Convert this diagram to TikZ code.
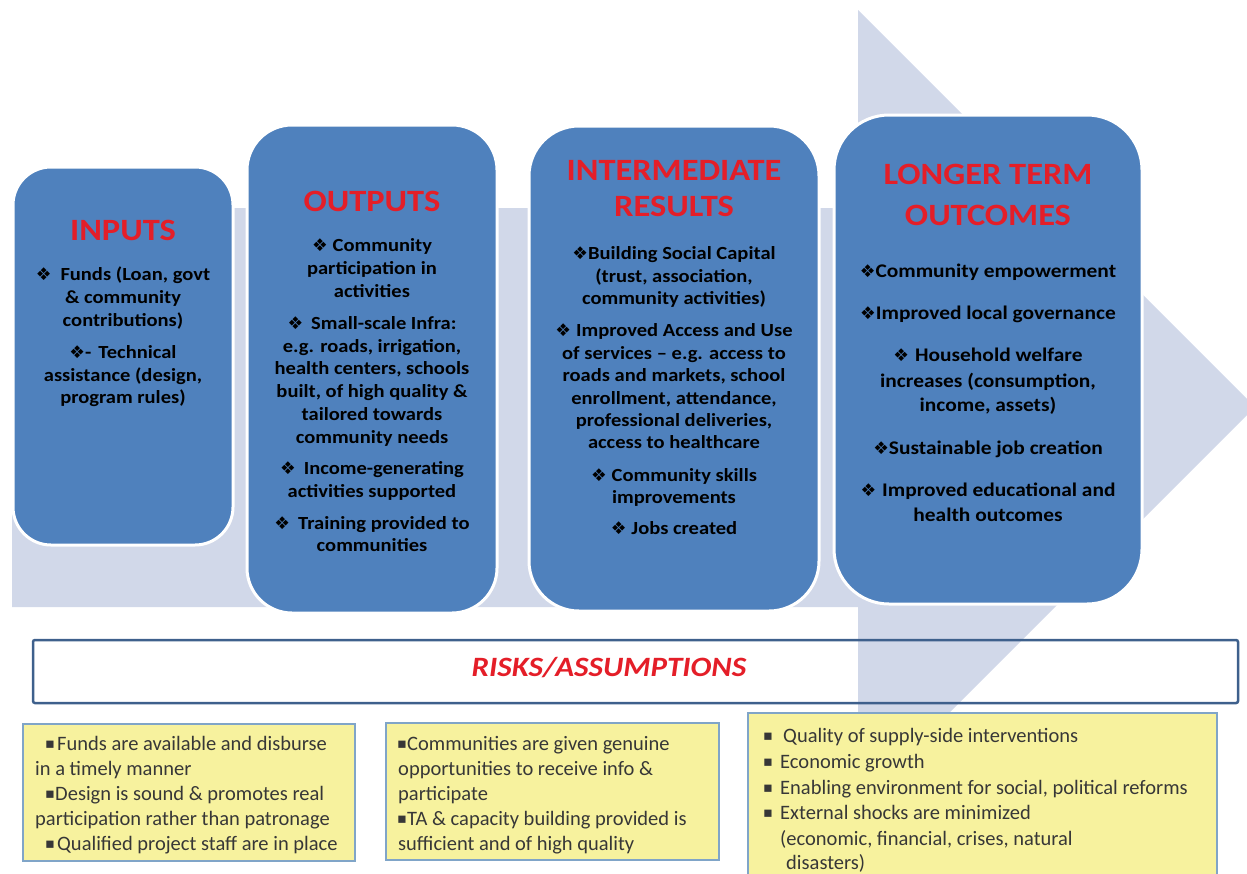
\documentclass[tikz,border=0pt]{standalone}
\usepackage{fontspec}
\setmainfont{Carlito}
\newfontfamily\widefont[FakeStretch=1.11,Ligatures=TeX]{Carlito}
\newfontfamily\symfont{DejaVu Sans}
\definecolor{arrowc}{RGB}{209,216,233}
\definecolor{boxblue}{RGB}{79,129,189}
\definecolor{titlered}{RGB}{228,30,40}
\definecolor{riskc}{RGB}{62,96,140}
\definecolor{ylwfill}{RGB}{247,242,158}
\definecolor{ylwline}{RGB}{128,165,200}
\definecolor{bottxt}{RGB}{55,55,55}
\newcommand\myDiam{{\symfont\fontsize{17.5}{17.5}\selectfont ❖}}
\newcommand\mySq[1][18pt]{\makebox[#1][l]{\raisebox{1.5pt}{\symfont\fontsize{14.5}{14.5}\selectfont ▪}}}
\begin{document}
\begin{tikzpicture}[x=1pt,y=-1pt,
  bbox/.style={fill=boxblue,draw=white,line width=3pt,inner sep=0pt},
  ttl/.style={text=titlered,font=\widefont\fontsize{31}{31}\selectfont\bfseries,anchor=base,inner sep=0pt},
  tl/.style={font=\widefont\fontsize{18.5}{18.5}\selectfont\bfseries,anchor=base,inner sep=0pt,text=black},
  tm/.style={font=\widefont\fontsize{18.5}{18.5}\selectfont\bfseries,anchor=base,inner sep=0pt,text=black},
  tr/.style={font=\widefont\fontsize{19.3}{19.3}\selectfont\bfseries,anchor=base,inner sep=0pt,text=black},
  ybox/.style={fill=ylwfill,draw=ylwline,line width=1.2pt,inner sep=0pt},
  bl/.style={font=\fontsize{20.5}{20.5}\selectfont,anchor=base west,inner sep=0pt,text=bottxt}]
\useasboundingbox (0,0) rectangle (1247,873);
\begin{scope}
\clip (0,0) rectangle (1247,873);
% big background arrow
\fill[arrowc] (12,208) -- (858,208) -- (858,10) -- (1255,407) -- (858,804) -- (858,607) -- (12,607) -- cycle;

% blue boxes
\node[bbox,rounded corners=38pt,minimum width=220pt,minimum height=378pt] (inbox) at (123,356) {};
\node[bbox,rounded corners=45pt,minimum width=250pt,minimum height=488pt] (outbox) at (372,369) {};
\node[bbox,rounded corners=50pt,minimum width=290pt,minimum height=485pt] (midbox) at (674,368.5) {};
\node[bbox,rounded corners=55pt,minimum width=308pt,minimum height=489pt] (longbox) at (988,359.5) {};

% INPUTS
\node[ttl] (inT) at (123,240) {INPUTS};
\node[tl] (in1) at (123,280) {\myDiam\hspace{9pt}Funds (Loan, govt};
\node[tl] (in2) at (123,303) {\& community};
\node[tl] (in3) at (123,326) {contributions)};
\node[tl] (in4) at (123,358) {\myDiam-\hspace{7pt}Technical};
\node[tl] (in5) at (123,381) {assistance (design,};
\node[tl] (in6) at (123,403) {program rules)};

% OUTPUTS
\node[ttl] (outT) at (372,211) {OUTPUTS};
\node[tl] (o1) at (372,251) {\myDiam\hspace{5pt}Community};
\node[tl] (o2) at (372,274) {participation in};
\node[tl] (o3) at (372,297) {activities};
\node[tl] (o4) at (372,329) {\myDiam\hspace{8pt}Small-scale Infra:};
\node[tl] (o5) at (372,352) {e.g. roads, irrigation,};
\node[tl] (o6) at (372,374) {health centers, schools};
\node[tl] (o7) at (372,397) {built, of high quality \&};
\node[tl] (o8) at (372,420) {tailored towards};
\node[tl] (o9) at (372,443) {community needs};
\node[tl] (o10) at (372,474) {\myDiam\hspace{8pt}Income-generating};
\node[tl] (o11) at (372,497) {activities supported};
\node[tl] (o12) at (372,529) {\myDiam\hspace{8pt}Training provided to};
\node[tl] (o13) at (372,551) {communities};

% INTERMEDIATE RESULTS
\node[ttl] (midT1) at (674,180) {INTERMEDIATE};
\node[ttl] (midT2) at (674,216) {RESULTS};
\node[tm] (m1) at (674,259) {\myDiam Building Social Capital};
\node[tm] (m2) at (674,282) {(trust, association,};
\node[tm] (m3) at (674,304) {community activities)};
\node[tm] (m4) at (674,336) {\myDiam\hspace{5pt}Improved Access and Use};
\node[tm] (m5) at (674,359) {of services – e.g. access to};
\node[tm] (m6) at (674,381) {roads and markets, school};
\node[tm] (m7) at (674,404) {enrollment, attendance,};
\node[tm] (m8) at (674,426) {professional deliveries,};
\node[tm] (m9) at (674,448) {access to healthcare};
\node[tm] (m10) at (674,481) {\myDiam\hspace{5pt}Community skills};
\node[tm] (m11) at (674,503) {improvements};
\node[tm] (m12) at (674,534) {\myDiam\hspace{5pt}Jobs created};

% LONGER TERM OUTCOMES
\node[ttl] (lT1) at (988,184) {LONGER TERM};
\node[ttl] (lT2) at (988,225) {OUTCOMES};
\node[tr] (l1) at (988,277) {\myDiam Community empowerment};
\node[tr] (l2) at (988,319) {\myDiam Improved local governance};
\node[tr] (l3) at (988,361) {\myDiam\hspace{6pt}Household welfare};
\node[tr] (l4) at (988,387) {increases (consumption,};
\node[tr] (l5) at (988,411) {income, assets)};
\node[tr] (l6) at (988,454) {\myDiam Sustainable job creation};
\node[tr] (l7) at (988,496) {\myDiam\hspace{6pt}Improved educational and};
\node[tr] (l8) at (988,521) {health outcomes};

% RISKS / ASSUMPTIONS
\node[draw=riskc,line width=2.5pt,rounded corners=2pt,minimum width=1205pt,minimum height=63pt,inner sep=0pt] (riskbox) at (635.5,671.5) {};
\node[text=titlered,font=\widefont\fontsize{28}{28}\selectfont\bfseries\itshape,anchor=base,inner sep=0pt] (riskT) at (609,676) {RISKS/ASSUMPTIONS};

% yellow boxes
\node[ybox,minimum width=332pt,minimum height=137pt] (y1) at (189,792.5) {};
\node[ybox,minimum width=333pt,minimum height=137pt] (y2) at (552.5,791.5) {};
\node[ybox,minimum width=469pt,minimum height=180pt] (y3) at (982.5,803) {};

\node[bl] (a1) at (45,750) {\mySq[12pt]Funds are available and disburse};
\node[bl] (a2) at (35,775) {in a timely manner};
\node[bl] (a3) at (45,800) {\mySq[10pt]Design is sound \& promotes real};
\node[bl] (a4) at (35,825) {participation rather than patronage};
\node[bl] (a5) at (45,850) {\mySq[12pt]Qualified project staff are in place};

\node[bl] (b1) at (397,750) {\mySq[10pt]Communities are given genuine};
\node[bl] (b2) at (398,775) {opportunities to receive info \&};
\node[bl] (b3) at (398,800) {participate};
\node[bl] (b4) at (397,825) {\mySq[10pt]TA \& capacity building provided is};
\node[bl] (b5) at (398,850) {sufficient and of high quality};

\node[bl] (c1) at (763,742) {\mySq[20pt]Quality of supply-side interventions};
\node[bl] (c2) at (763,768) {\mySq[17pt]Economic growth};
\node[bl] (c3) at (763,794) {\mySq[17pt]Enabling environment for social, political reforms};
\node[bl] (c4) at (763,819) {\mySq[17pt]External shocks are minimized};
\node[bl] (c5) at (780,845) {(economic, financial, crises, natural};
\node[bl] (c6) at (786,869) {disasters)};
\end{scope}
\end{tikzpicture}
\end{document}
